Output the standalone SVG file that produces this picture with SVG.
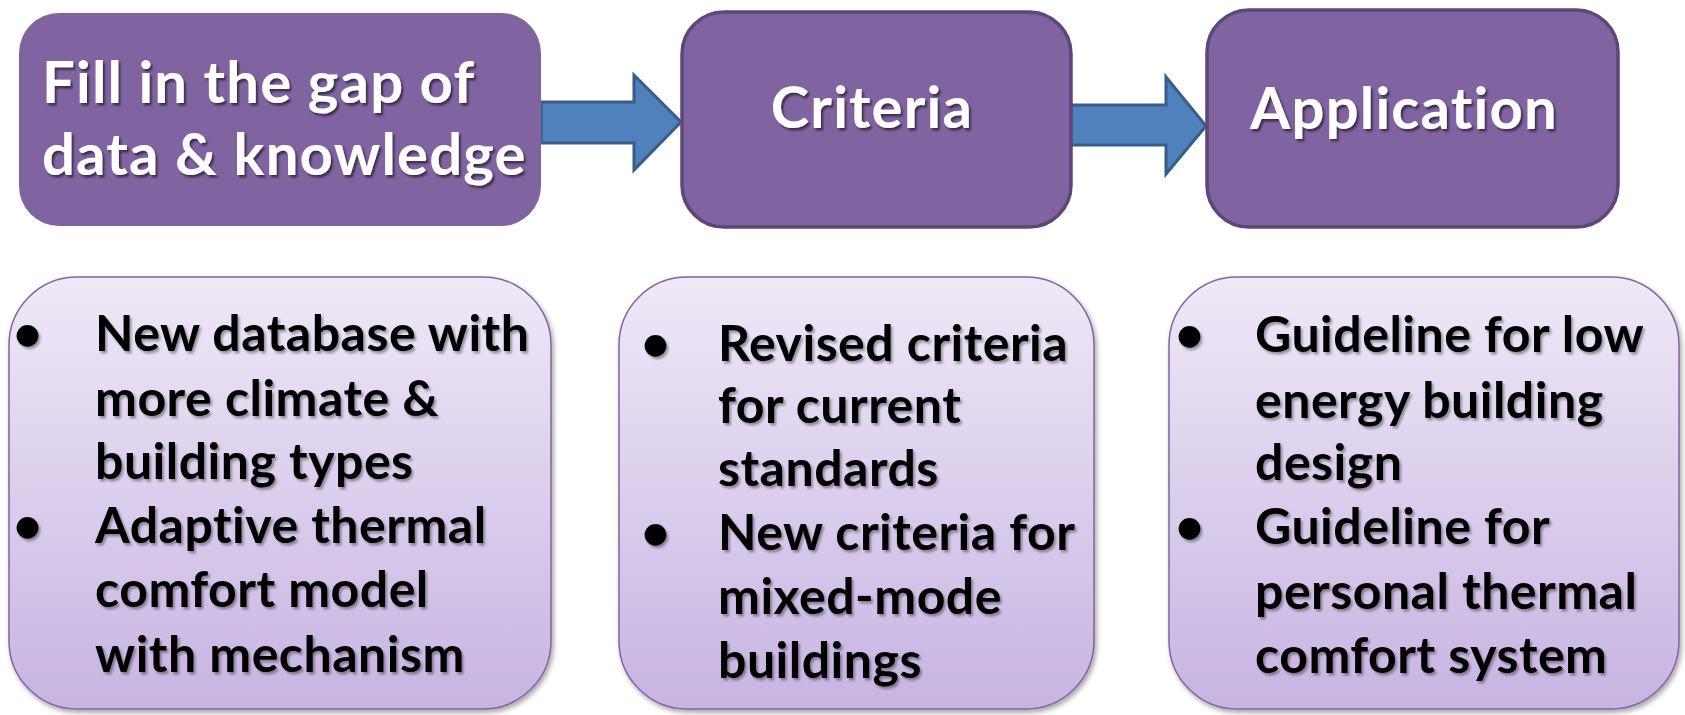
<svg xmlns="http://www.w3.org/2000/svg" width="1685" height="715" viewBox="0 0 1685 715">
  <defs>
    <linearGradient id="softFill" x1="0" y1="0" x2="0" y2="1">
      <stop offset="0" stop-color="#efe9f7"/>
      <stop offset="1" stop-color="#c7b4e2"/>
    </linearGradient>
    <filter id="textShadow" x="-10%" y="-30%" width="120%" height="160%">
      <feDropShadow dx="2" dy="2.5" stdDeviation="1.2" flood-color="#000" flood-opacity="0.55"/>
    </filter>
    <filter id="darkTextShadow" x="-10%" y="-30%" width="120%" height="160%">
      <feDropShadow dx="2" dy="2.5" stdDeviation="1.3" flood-color="#000" flood-opacity="0.35"/>
    </filter>
    <filter id="boxShadow" x="-10%" y="-10%" width="120%" height="120%">
      <feDropShadow dx="2" dy="3" stdDeviation="2.5" flood-color="#000" flood-opacity="0.35"/>
    </filter>
  </defs>
  <style>
    .stage { fill: #8064a2; }
    .stage-edge { stroke: #5c4778; stroke-width: 3.5; }
    .detail { fill: url(#softFill); stroke: #8064a2; stroke-width: 1.5; filter: url(#boxShadow); }
    .arrow { fill: #4f81bd; stroke: #385d8a; stroke-width: 3; stroke-linejoin: miter; }
    .title { font-family: Lato, "Open Sans", sans-serif; font-weight: bold; font-size: 58px; letter-spacing: 1.2px; fill: #ffffff; filter: url(#textShadow); }
    .item { font-family: Lato, "Open Sans", sans-serif; font-weight: bold; font-size: 50px; letter-spacing: 0.5px; fill: #000000; filter: url(#darkTextShadow); }
  </style>

  <rect width="1685" height="715" fill="#ffffff"/>

  <!-- arrows between the stages -->
  <g id="connectors">
    <path class="arrow" d="M541,102 H634 V75 L681,122 L634,170 V143 H541 Z"/>
    <path class="arrow" d="M1071,105 H1166 V77 L1206,126 L1166,174 V145 H1071 Z"/>
  </g>

  <!-- top row: stages -->
  <g id="stage-gap">
    <rect class="stage" x="19" y="13" width="522" height="213" rx="40"/>
    <text class="title" x="42" y="103">Fill in the gap of</text>
    <text class="title" x="42" y="175">data &amp; knowledge</text>
  </g>
  <g id="stage-criteria">
    <rect class="stage stage-edge" x="682" y="12" width="389" height="215" rx="42"/>
    <text class="title" x="872" y="128" text-anchor="middle">Criteria</text>
  </g>
  <g id="stage-application">
    <rect class="stage stage-edge" x="1207" y="10" width="411" height="217" rx="42"/>
    <text class="title" x="1404" y="129" text-anchor="middle">Application</text>
  </g>

  <!-- bottom row: details -->
  <g id="detail-gap">
    <rect class="detail" x="9" y="277" width="542" height="432" rx="68"/>
    <text class="item" x="13" y="351">•</text>
    <text class="item" x="95" y="351">New database with</text>
    <text class="item" x="95" y="416">more climate &amp;</text>
    <text class="item" x="95" y="479">building types</text>
    <text class="item" x="13" y="543">•</text>
    <text class="item" x="95" y="543">Adaptive thermal</text>
    <text class="item" x="95" y="607">comfort model</text>
    <text class="item" x="95" y="672">with mechanism</text>
  </g>
  <g id="detail-criteria">
    <rect class="detail" x="619" y="277" width="475" height="432" rx="68"/>
    <text class="item" x="641" y="361">•</text>
    <text class="item" x="718" y="361">Revised criteria</text>
    <text class="item" x="718" y="423">for current</text>
    <text class="item" x="718" y="486">standards</text>
    <text class="item" x="641" y="550">•</text>
    <text class="item" x="718" y="550">New criteria for</text>
    <text class="item" x="718" y="614">mixed-mode</text>
    <text class="item" x="718" y="678">buildings</text>
  </g>
  <g id="detail-application">
    <rect class="detail" x="1169" y="277" width="510" height="432" rx="68"/>
    <text class="item" x="1175" y="352">•</text>
    <text class="item" x="1255" y="352">Guideline for low</text>
    <text class="item" x="1255" y="418">energy building</text>
    <text class="item" x="1255" y="480">design</text>
    <text class="item" x="1175" y="544">•</text>
    <text class="item" x="1255" y="544">Guideline for</text>
    <text class="item" x="1255" y="609">personal thermal</text>
    <text class="item" x="1255" y="673">comfort system</text>
  </g>
</svg>
